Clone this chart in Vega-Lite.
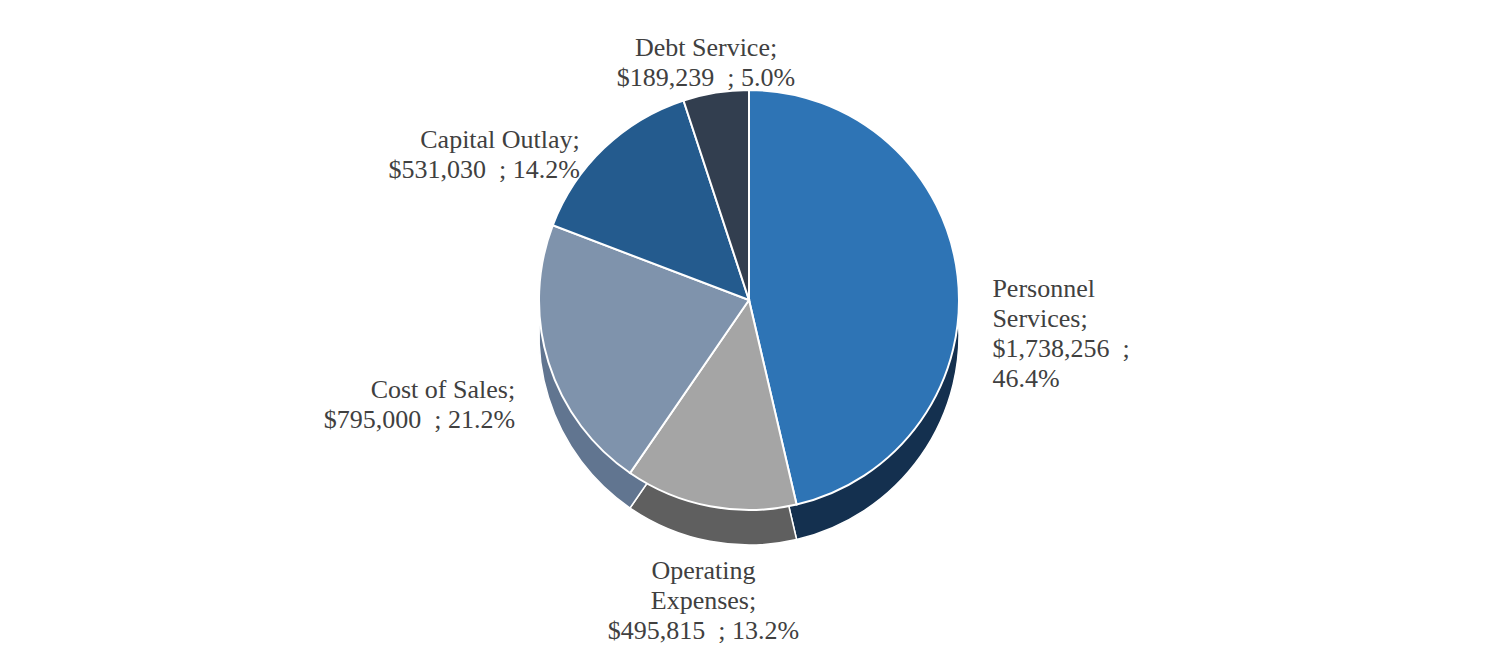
{
  "$schema": "https://vega.github.io/schema/vega-lite/v6.json",
  "width": 1498,
  "height": 660,
  "autosize": {"type": "fit", "contains": "padding"},
  "padding": 0,
  "background": "white",
  "config": {"view": {"stroke": null}},
  "data": {
    "values": [
      {"idx": 1, "category": "Personnel Services", "amount": 1738256, "label": "Personnel\nServices;\n$1,738,256 \u00a0;\n46.4%"},
      {"idx": 2, "category": "Operating Expenses", "amount": 495815, "label": "Operating\nExpenses;\n$495,815 \u00a0; 13.2%"},
      {"idx": 3, "category": "Cost of Sales", "amount": 795000, "label": "Cost of Sales;\n$795,000 \u00a0; 21.2%"},
      {"idx": 4, "category": "Capital Outlay", "amount": 531030, "label": "Capital Outlay;\n$531,030 \u00a0; 14.2%"},
      {"idx": 5, "category": "Debt Service", "amount": 189239, "label": "Debt Service;\n$189,239 \u00a0; 5.0%"}
    ]
  },
  "encoding": {
    "theta": {"field": "amount", "type": "quantitative", "stack": true},
    "order": {"field": "idx", "type": "quantitative"}
  },
  "layer": [
    {
      "mark": {"type": "arc", "radius": 210, "x": {"expr": "width/2"}, "y": {"expr": "height/2 + 5"}, "stroke": "white", "strokeWidth": 1.5},
      "encoding": {
        "color": {"field": "category", "type": "nominal", "legend": null,
          "scale": {"domain": ["Personnel Services", "Operating Expenses", "Cost of Sales", "Capital Outlay", "Debt Service"],
                    "range": ["#14304f", "#5f5f5f", "#617590", "#1a4570", "#252e3b"]}}
      }
    },
    {
      "mark": {"type": "arc", "radius": 210, "x": {"expr": "width/2"}, "y": {"expr": "height/2 - 30"}, "stroke": "white", "strokeWidth": 2},
      "encoding": {
        "color": {"field": "category", "type": "nominal", "legend": null,
          "scale": {"domain": ["Personnel Services", "Operating Expenses", "Cost of Sales", "Capital Outlay", "Debt Service"],
                    "range": ["#2e74b5", "#a5a5a5", "#7f93ac", "#245b8e", "#323e4f"]}}
      }
    },
    {
      "mark": {"type": "text", "radius": 245, "x": {"expr": "width/2"}, "y": {"expr": "height/2 - 13"}, "font": "Liberation Serif", "fontSize": 26, "color": "#404040", "lineBreak": "\n", "lineHeight": 30, "align": "left", "baseline": "middle"},
      "encoding": {"text": {"condition": {"test": "datum.category === 'Personnel Services'", "field": "label"}, "value": ""}}
    },
    {
      "mark": {"type": "text", "radius": 245, "x": {"expr": "width/2"}, "y": {"expr": "height/2 - 13"}, "font": "Liberation Serif", "fontSize": 26, "color": "#404040", "lineBreak": "\n", "lineHeight": 30, "align": "right", "baseline": "middle"},
      "encoding": {"text": {"condition": {"test": "datum.category === 'Cost of Sales' || datum.category === 'Capital Outlay'", "field": "label"}, "value": ""}}
    },
    {
      "mark": {"type": "text", "radius": 272, "x": {"expr": "width/2"}, "y": {"expr": "height/2 - 13"}, "font": "Liberation Serif", "fontSize": 26, "color": "#404040", "lineBreak": "\n", "lineHeight": 30, "align": "center", "baseline": "middle"},
      "encoding": {"text": {"condition": {"test": "datum.category === 'Debt Service'", "field": "label"}, "value": ""}}
    },
    {
      "mark": {"type": "text", "radius": 245, "x": {"expr": "width/2"}, "y": {"expr": "height/2 - 13"}, "font": "Liberation Serif", "fontSize": 26, "color": "#404040", "lineBreak": "\n", "lineHeight": 30, "align": "center", "baseline": "top"},
      "encoding": {"text": {"condition": {"test": "datum.category === 'Operating Expenses'", "field": "label"}, "value": ""}}
    }
  ],
  "resolve": {"scale": {"color": "independent"}}
}
